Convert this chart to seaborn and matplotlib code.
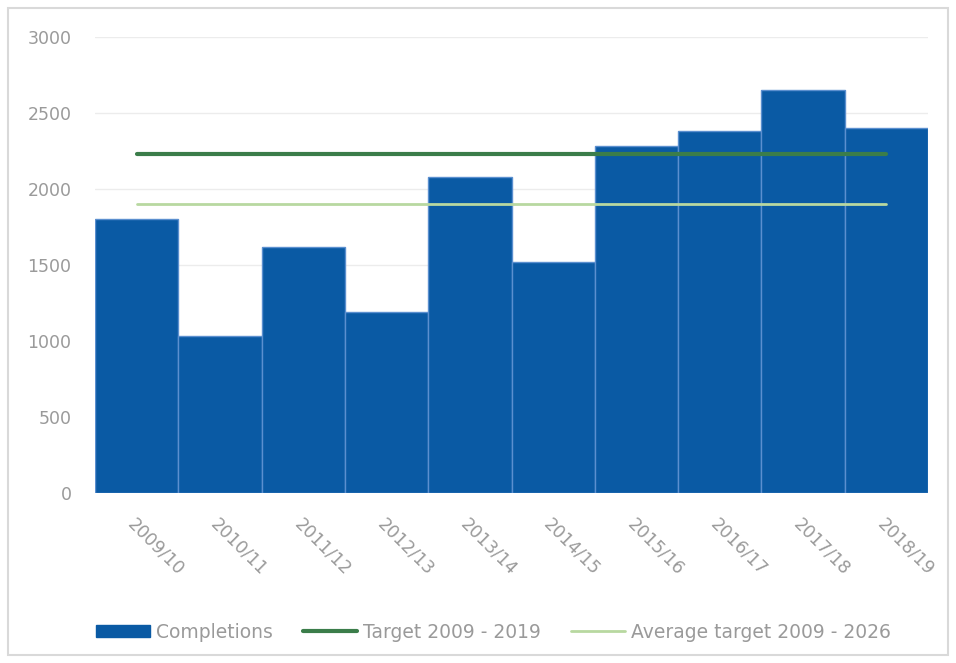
import matplotlib
matplotlib.use("Agg")
import matplotlib.pyplot as plt
import seaborn as sns
import pandas as pd
from matplotlib.patches import Rectangle, Patch
from matplotlib.lines import Line2D

years = ["2009/10", "2010/11", "2011/12", "2012/13", "2013/14",
         "2014/15", "2015/16", "2016/17", "2017/18", "2018/19"]
completions = [1800, 1030, 1620, 1190, 2080, 1520, 2280, 2380, 2650, 2400]
target = [2230, 2230, 2230, 2230, 2230, 2230, 2230, 2230, 2230, 2230]
avg_target = [1900, 1900, 1900, 1900, 1900, 1900, 1900, 1900, 1900, 1900]
yticks = [0, 500, 1000, 1500, 2000, 2500, 3000]

bar_color = "#0a5aa4"
target_color = "#3b7d4a"
avg_color = "#b8d8a0"
text_color = "#9a9a9a"

sns.set_theme(style="white")
plt.rcParams["font.family"] = ["DejaVu Sans"]

df = pd.DataFrame({"year": years, "completions": completions})

fig = plt.figure(figsize=(9.56, 6.63), dpi=100)
ax = fig.add_axes([95 / 956, 1 - 493 / 663, (928 - 95) / 956, (493 - 37) / 663])

sns.barplot(data=df, x="year", y="completions", color=bar_color, width=1.0,
            saturation=1, edgecolor="#5b8fcf", linewidth=1.0, ax=ax, zorder=2)
ax.plot(range(len(years)), target, color=target_color, lw=3, zorder=3)
ax.plot(range(len(years)), avg_target, color=avg_color, lw=2, zorder=3)

ax.set_xlim(-0.5, len(years) - 0.5)
ax.set_ylim(0, 3000)
ax.set_yticks(yticks)
ax.set_yticklabels([str(v) for v in yticks])
ax.yaxis.grid(True, color="#ececec", lw=1)
ax.set_axisbelow(True)
for s in ax.spines.values():
    s.set_visible(False)
ax.set_xlabel("")
ax.set_ylabel("")
ax.tick_params(axis="y", length=0, pad=17, labelsize=12.5, labelcolor=text_color)
ax.tick_params(axis="x", length=0, pad=16, labelsize=12.5, labelcolor=text_color)
ax.set_xticks(range(len(years)))
ax.set_xticklabels(years, rotation=-45, ha="left", va="top", rotation_mode="anchor")

handles = [Patch(facecolor=bar_color, edgecolor=bar_color),
           Line2D([0], [0], color=target_color, lw=3),
           Line2D([0], [0], color=avg_color, lw=2)]
labels = ["Completions", "Target 2009 - 2019", "Average target 2009 - 2026"]
leg = fig.legend(handles, labels, loc="center", bbox_to_anchor=(0.516, 1 - 632 / 663),
                 ncol=3, frameon=False, fontsize=13.5, handlelength=2.9,
                 handleheight=0.55, columnspacing=1.6, handletextpad=0.3,
                 labelcolor=text_color)

fig.patches.append(Rectangle((8 / 956, 1 - 655 / 663), 940 / 956, 647 / 663,
                             transform=fig.transFigure, fill=False,
                             edgecolor="#d9d9d9", lw=1.5))

fig.savefig("out.png", dpi=100, facecolor="white")
